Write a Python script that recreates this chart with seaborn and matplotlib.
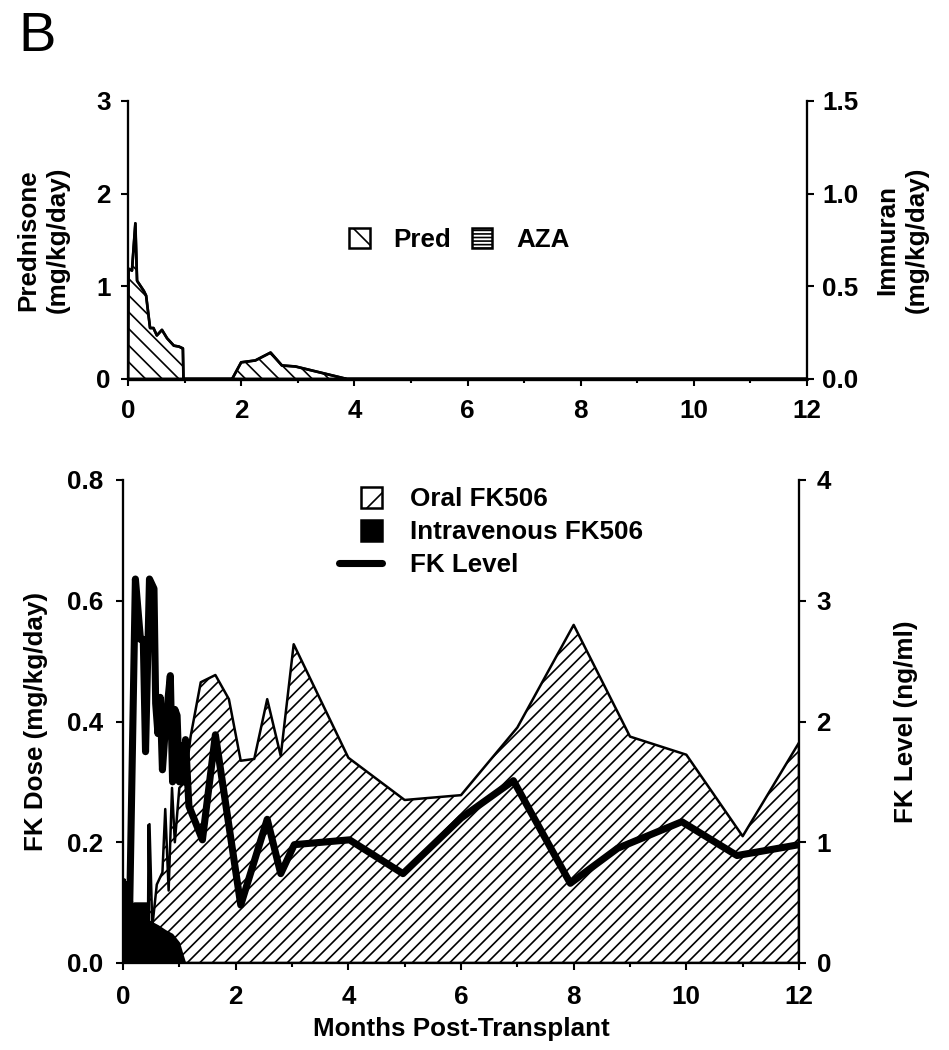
import matplotlib
matplotlib.use("Agg")
import matplotlib.pyplot as plt
import seaborn as sns
from matplotlib.patches import Patch, Rectangle
from matplotlib.lines import Line2D
from matplotlib.legend_handler import HandlerPatch
from matplotlib.ticker import MultipleLocator, FormatStrFormatter

# ---------------- data ----------------
# Top panel: prednisone (mg/kg/day) vs months
pred_months = [0, 0.01, 0.07, 0.13, 0.16, 0.28, 0.32, 0.39, 0.45, 0.51, 0.6, 0.69,
               0.81, 0.9, 0.97, 0.98, 1.84, 2.0, 2.25, 2.52, 2.72, 2.96, 3.87, 12.0]
pred_dose = [0, 1.19, 1.17, 1.68, 1.06, 0.95, 0.9, 0.55, 0.55, 0.47, 0.53, 0.44,
             0.36, 0.35, 0.33, 0, 0, 0.18, 0.2, 0.285, 0.146, 0.135, 0, 0]
# Azathioprine (Immuran, mg/kg/day): none given
aza_months = [0, 12]
aza_dose = [0, 0]

# Bottom panel: oral FK506 dose (mg/kg/day)
oral_months = [0.45, 0.47, 0.52, 0.6, 0.7, 0.75, 0.81, 0.87, 0.92, 1.0, 1.1, 1.2,
               1.38, 1.64, 1.88, 2.09, 2.33, 2.56, 2.8, 3.03, 4.0, 5.0, 6.0, 7.0,
               8.0, 9.0, 10.0, 11.0, 12.0]
oral_dose = [0.0, 0.23, 0.06, 0.13, 0.15, 0.255, 0.12, 0.29, 0.2, 0.29, 0.3, 0.375,
             0.465, 0.477, 0.437, 0.335, 0.338, 0.437, 0.343, 0.528, 0.34, 0.27,
             0.278, 0.39, 0.56, 0.375, 0.345, 0.21, 0.365]
# Intravenous FK506 dose (mg/kg/day)
iv_months = [0, 0.02, 0.04, 0.07, 0.1, 0.2, 0.3, 0.4, 0.43, 0.44, 0.46, 0.5, 0.62,
             0.75, 0.87, 0.99, 1.05, 1.1]
iv_dose = [0, 0.14, 0.13, 0.1, 0.098, 0.1, 0.1, 0.1, 0.1, 0.23, 0.07, 0.068, 0.062,
           0.054, 0.048, 0.034, 0.015, 0]
# FK level (ng/ml)
level_months = [0.05, 0.12, 0.22, 0.31, 0.36, 0.4, 0.47, 0.55, 0.58, 0.62, 0.66, 0.7,
                0.76, 0.84, 0.88, 0.92, 0.96, 1.0, 1.04, 1.08, 1.11, 1.17, 1.41, 1.64,
                2.09, 2.56, 2.8, 3.04, 4.02, 4.97, 6.0, 6.93, 7.94, 8.78, 9.92, 10.9, 12.0]
level_ngml = [0.65, 0.5, 3.18, 2.68, 2.68, 1.75, 3.18, 3.1, 2.15, 1.9, 2.2, 1.6,
              2.0, 2.38, 1.5, 2.1, 2.05, 1.5, 1.8, 1.5, 1.85, 1.3, 1.02, 1.89,
              0.48, 1.19, 0.74, 0.98, 1.02, 0.74, 1.2, 1.51, 0.66, 0.95, 1.17, 0.89, 0.98]

month_ticks = [0, 2, 4, 6, 8, 10, 12]

# ---------------- style ----------------
sns.set_theme(style="ticks")
plt.rcParams["font.family"] = ["Liberation Sans", "DejaVu Sans"]
plt.rcParams["font.weight"] = "bold"
plt.rcParams["axes.labelweight"] = "bold"
plt.rcParams["text.color"] = "black"
plt.rcParams["axes.labelcolor"] = "black"
plt.rcParams["xtick.color"] = "black"
plt.rcParams["ytick.color"] = "black"
plt.rcParams["hatch.linewidth"] = 0.8

DPI = 150
W, H = 949, 1050
FS = 12.5

fig = plt.figure(figsize=(W / DPI, H / DPI), dpi=DPI)
fig.patch.set_facecolor("white")


def style_axes(ax, side):
    for s in ["top", "left", "right", "bottom"]:
        ax.spines[s].set_visible(False)
    if side == "left":
        ax.spines["left"].set_visible(True)
        ax.spines["bottom"].set_visible(True)
    else:
        ax.spines["right"].set_visible(True)
    for s in ax.spines.values():
        s.set_linewidth(1.1)
        s.set_color("black")
    ax.tick_params(axis="both", which="major", direction="out", length=3.4, width=1.0,
                   colors="black", labelsize=FS)
    ax.tick_params(axis="both", which="minor", direction="out", length=2.0, width=1.0,
                   colors="black")
    for lab in ax.get_xticklabels() + ax.get_yticklabels():
        lab.set_fontweight("bold")


# ---------------- top panel ----------------
ax1 = fig.add_axes([128 / W, 1 - 379 / H, 679 / W, 278 / H])
ax1.fill_between(pred_months, pred_dose, 0, facecolor="white", edgecolor="black",
                 hatch="\\\\\\", linewidth=1.2, zorder=2)
sns.lineplot(x=pred_months, y=pred_dose, ax=ax1, color="black", lw=1.3,
             estimator=None, sort=False, zorder=3)
ax1.set_xlim(0, 12)
ax1.set_ylim(0, 3)
ax1.set_xticks(month_ticks)
ax1.xaxis.set_minor_locator(MultipleLocator(1))
ax1.set_yticks([0, 1, 2, 3])
ax1.set_ylabel("Prednisone\n(mg/kg/day)", fontsize=FS, fontweight="bold",
               va="center", linespacing=1.3)
ax1.yaxis.set_label_coords(-0.125, 0.5)
style_axes(ax1, "left")
ax1.tick_params(axis="x", which="major", pad=6)
ax1.tick_params(axis="y", which="major", pad=5)

ax1r = ax1.twinx()
sns.lineplot(x=aza_months, y=aza_dose, ax=ax1r, color="black", lw=1.6,
             estimator=None, clip_on=False)
ax1r.set_ylim(0, 1.5)
ax1r.set_yticks([0, 0.5, 1.0, 1.5])
ax1r.yaxis.set_major_formatter(FormatStrFormatter("%.1f"))
ax1r.set_ylabel("Immuran\n(mg/kg/day)", fontsize=FS, fontweight="bold",
                va="center", rotation=90, linespacing=1.3)
ax1r.yaxis.set_label_coords(1.14, 0.5)
style_axes(ax1r, "right")
ax1r.tick_params(axis="y", which="major", pad=4)

top_handles = [
    Patch(facecolor="white", edgecolor="black", hatch="\\\\", linewidth=1.2, label="Pred"),
    Patch(facecolor="white", edgecolor="black", hatch="-------", linewidth=1.2, label="AZA"),
]
leg1 = ax1r.legend(handles=top_handles, loc="center", bbox_to_anchor=(0.4875, 0.5),
                   ncol=2, frameon=False, fontsize=FS, handlelength=0.8,
                   handleheight=0.8, handletextpad=0.9, columnspacing=0.8,
                   borderpad=0)
for t in leg1.get_texts():
    t.set_fontweight("bold")

# ---------------- bottom panel ----------------
ax2 = fig.add_axes([123 / W, 1 - 963 / H, 676 / W, 483 / H])
ax2.fill_between(oral_months, oral_dose, 0, facecolor="white", edgecolor="black",
                 hatch="////", linewidth=1.2, zorder=2)
ax2.fill_between(iv_months, iv_dose, 0, facecolor="black", edgecolor="black",
                 linewidth=0.8, zorder=3)
ax2.set_xlim(0, 12)
ax2.set_ylim(0, 0.8)
ax2.set_xticks(month_ticks)
ax2.xaxis.set_minor_locator(MultipleLocator(1))
ax2.set_yticks([0, 0.2, 0.4, 0.6, 0.8])
ax2.yaxis.set_major_formatter(FormatStrFormatter("%.1f"))
ax2.set_ylabel("FK Dose (mg/kg/day)", fontsize=FS, fontweight="bold", va="center")
ax2.yaxis.set_label_coords(-0.129, 0.5)
ax2.set_xlabel("Months Post-Transplant", fontsize=FS, fontweight="bold")
style_axes(ax2, "left")
ax2.tick_params(axis="x", which="major", pad=7)
ax2.tick_params(axis="y", which="major", pad=6)

ax2r = ax2.twinx()
sns.lineplot(x=level_months, y=level_ngml, ax=ax2r, color="black", lw=3.4,
             estimator=None, sort=False)
ax2r.set_ylim(0, 4)
ax2r.set_yticks([0, 1, 2, 3, 4])
ax2r.set_ylabel("FK Level (ng/ml)", fontsize=FS, fontweight="bold", va="center",
                rotation=90)
ax2r.yaxis.set_label_coords(1.158, 0.5)
style_axes(ax2r, "right")
ax2r.tick_params(axis="y", which="major", pad=5)


def square_patch(legend, orig_handle, xdescent, ydescent, width, height, fontsize):
    s = height * 1.1
    return Rectangle((-xdescent + width - s, -ydescent + (height - s) / 2), s, s)


bottom_handles = [
    Patch(facecolor="white", edgecolor="black", hatch="//", linewidth=1.2,
          label="Oral FK506"),
    Patch(facecolor="black", edgecolor="black", linewidth=1.2,
          label="Intravenous FK506"),
    Line2D([0], [0], color="black", lw=3.4, label="FK Level"),
]
leg2 = ax2r.legend(handles=bottom_handles, loc="upper left",
                   bbox_to_anchor=(0.32, 0.985), frameon=False, fontsize=FS,
                   handlelength=1.65, handleheight=0.75, handletextpad=1.05,
                   labelspacing=0.35, borderpad=0, borderaxespad=0,
                   handler_map={Patch: HandlerPatch(patch_func=square_patch)})
for t in leg2.get_texts():
    t.set_fontweight("bold")
ax2.xaxis.label.set_fontweight("bold")

# panel letter
fig.text(18 / W, 1 - 37 / H, "B", fontsize=27, fontweight="normal",
         ha="left", va="center")

fig.savefig("out.png", dpi=DPI, facecolor="white")
